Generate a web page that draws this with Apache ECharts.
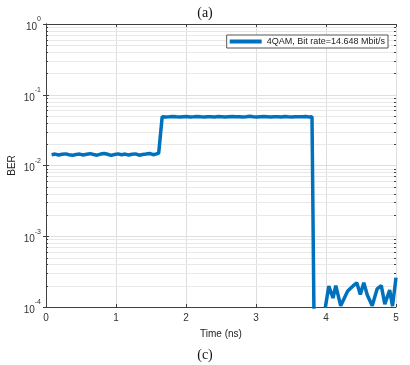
<!DOCTYPE html>
<html>
<head>
<meta charset="utf-8">
<script src="https://cdn.jsdelivr.net/npm/echarts@6/dist/echarts.min.js"></script>
<style>
  html, body { margin: 0; padding: 0; background: #fff; }
  #chart { width: 410px; height: 365px; }
</style>
</head>
<body>
<div id="chart"></div>
<script>
// BER vs time, 4QAM
const seriesName = '4QAM, Bit rate=14.648 Mbit/s'

const timeNs = [
  0.08, 0.13, 0.18, 0.23, 0.28, 0.33, 0.38, 0.43, 0.48, 0.53,
  0.58, 0.63, 0.68, 0.73, 0.78, 0.83, 0.88, 0.93, 0.98, 1.03,
  1.08, 1.13, 1.18, 1.23, 1.28, 1.33, 1.38, 1.43, 1.48, 1.53,
  1.58, 1.61,
  1.66, 1.71, 1.76, 1.81, 1.86, 1.91, 1.96, 2.01, 2.06, 2.11,
  2.16, 2.21, 2.26, 2.31, 2.36, 2.41, 2.46, 2.51, 2.56, 2.61,
  2.66, 2.71, 2.76, 2.81, 2.86, 2.91, 2.96, 3.01, 3.06, 3.11,
  3.16, 3.21, 3.26, 3.31, 3.36, 3.41, 3.46, 3.51, 3.56, 3.61,
  3.66, 3.71, 3.76, 3.80,
  3.83, 3.90,
  3.99, 4.04, 4.10, 4.14, 4.21, 4.31, 4.39, 4.44, 4.49, 4.54,
  4.59, 4.66, 4.73, 4.79, 4.84, 4.91, 4.95, 5.00
]

const ber = [
  0.0142, 0.0145, 0.0141, 0.0144, 0.0146, 0.0142, 0.0140, 0.0143, 0.0145, 0.0141,
  0.0144, 0.0147, 0.0143, 0.0140, 0.0145, 0.0148, 0.0144, 0.0139, 0.0143, 0.0146,
  0.0142, 0.0145, 0.0141, 0.0144, 0.0146, 0.0140, 0.0143, 0.0145, 0.0148, 0.0142,
  0.0146, 0.0150,
  0.0490, 0.0485, 0.0488, 0.0492, 0.0487, 0.0483, 0.0489, 0.0491, 0.0486, 0.0488,
  0.0493, 0.0487, 0.0484, 0.0489, 0.0490, 0.0486, 0.0491, 0.0488, 0.0485, 0.0490,
  0.0492, 0.0487, 0.0489, 0.0486, 0.0490, 0.0495, 0.0488, 0.0485, 0.0489, 0.0491,
  0.0487, 0.0483, 0.0488, 0.0490, 0.0486, 0.0492, 0.0488, 0.0485, 0.0490, 0.0487,
  0.0489, 0.0491, 0.0486, 0.0488,
  0.00005, null,
  0.000098, 0.000198, 0.000134, 0.000200, 0.000104, 0.000168, 0.000200, 0.000220, 0.000150, 0.000220,
  0.000148, 0.000104, 0.000180, 0.000200, 0.000110, 0.000173, 0.000103, 0.000260
]

const xTicks = [0, 1, 2, 3, 4, 5]
const yDecades = [-4, -3, -2, -1, 0]

// minor grid positions 2..9 x 10^k
const minorVals = []
yDecades.slice(0, -1).forEach((k) => {
  for (let m = 2; m <= 9; m++) minorVals.push([0, m * Math.pow(10, k)])
})

const axisColor = '#404040'
const font = 'Liberation Sans, Arial, sans-serif'

const chart = echarts.init(document.getElementById('chart'))

const option = {
  animation: false,
  backgroundColor: '#fff',
  title: [
    {
      text: '(a)',
      left: 'center',
      top: 1,
      textStyle: { fontFamily: 'Liberation Serif, Times New Roman, serif', fontSize: 14, fontWeight: 'normal', color: '#111' },
    },
    {
      text: '(c)',
      left: 'center',
      top: 343,
      textStyle: { fontFamily: 'Liberation Serif, Times New Roman, serif', fontSize: 14, fontWeight: 'normal', color: '#111' },
    },
  ],
  legend: {
    right: 22,
    top: 35,
    data: [seriesName],
    icon: 'rect',
    itemWidth: 32,
    itemHeight: 4,
    itemGap: 4,
    padding: [2, 3, 2, 3],
    borderColor: '#555',
    borderWidth: 1,
    backgroundColor: '#fff',
    textStyle: { fontFamily: font, fontSize: 9, color: '#222' },
  },
  grid: { left: 46, right: 14, top: 24, bottom: 58, outerBoundsMode: 'none' },
  xAxis: [
    {
      type: 'value',
      min: xTicks[0],
      max: xTicks[xTicks.length - 1],
      interval: 1,
      name: 'Time (ns)',
      nameLocation: 'middle',
      nameGap: 22,
      nameTextStyle: { fontFamily: font, fontSize: 10, color: '#222' },
      axisLine: { show: true, lineStyle: { color: axisColor, width: 1 } },
      axisTick: { show: true, inside: true, length: 3, lineStyle: { color: axisColor } },
      axisLabel: { fontFamily: font, fontSize: 10, color: '#333', margin: 6 },
      splitLine: { show: true, lineStyle: { color: '#dedede', width: 1 } },
    },
    {
      type: 'value',
      position: 'top',
      min: xTicks[0],
      max: xTicks[xTicks.length - 1],
      interval: 1,
      axisLine: { show: true, lineStyle: { color: axisColor, width: 1 } },
      axisTick: { show: true, inside: true, length: 3, lineStyle: { color: axisColor } },
      axisLabel: { show: false },
      splitLine: { show: false },
    },
  ],
  yAxis: [
    {
      type: 'log',
      logBase: 10,
      min: Math.pow(10, yDecades[0]),
      max: Math.pow(10, yDecades[yDecades.length - 1]),
      interval: 1,
      name: 'BER',
      nameLocation: 'middle',
      nameGap: 29,
      nameMoveOverlap: false,
      nameTextStyle: { fontFamily: font, fontSize: 10, color: '#222' },
      axisLine: { show: true, lineStyle: { color: axisColor, width: 1 } },
      axisTick: { show: true, inside: true, length: 3, lineStyle: { color: axisColor } },
      axisLabel: {
        margin: 5,
        formatter: (v) => '{b|10}{e|' + Math.round(Math.log10(v)) + '}',
        rich: {
          b: { fontFamily: font, fontSize: 10, color: '#333', lineHeight: 16, verticalAlign: 'bottom' },
          e: { fontFamily: font, fontSize: 7, color: '#333', lineHeight: 16, verticalAlign: 'top' },
        },
      },
      splitLine: { show: true, lineStyle: { color: '#dedede', width: 1 } },
    },
    {
      type: 'log',
      logBase: 10,
      position: 'right',
      min: Math.pow(10, yDecades[0]),
      max: Math.pow(10, yDecades[yDecades.length - 1]),
      interval: 1,
      axisLine: { show: true, lineStyle: { color: axisColor, width: 1 } },
      axisTick: { show: true, inside: true, length: 3, lineStyle: { color: axisColor } },
      axisLabel: { show: false },
      splitLine: { show: false },
    },
  ],
  series: [
    {
      type: 'custom',
      silent: true,
      z: 1,
      xAxisIndex: 0,
      yAxisIndex: 0,
      data: minorVals,
      renderItem: (params, api) => {
        const y = Math.round(api.coord([0, api.value(1)])[1]) + 0.5
        const cs = params.coordSys
        return {
          type: 'group',
          children: [
            { type: 'line', shape: { x1: cs.x, y1: y, x2: cs.x + cs.width, y2: y }, style: { stroke: '#e8e8e8', lineWidth: 1 } },
            { type: 'line', shape: { x1: cs.x, y1: y, x2: cs.x + 2, y2: y }, style: { stroke: axisColor, lineWidth: 1 } },
            { type: 'line', shape: { x1: cs.x + cs.width - 2, y1: y, x2: cs.x + cs.width, y2: y }, style: { stroke: axisColor, lineWidth: 1 } },
          ],
        }
      },
    },
    {
      name: seriesName,
      type: 'line',
      z: 3,
      xAxisIndex: 0,
      yAxisIndex: 0,
      data: timeNs.map((t, i) => [t, ber[i]]),
      showSymbol: false,
      symbol: 'none',
      connectNulls: false,
      clip: true,
      color: '#0072BD',
      lineStyle: { color: '#0072BD', width: 3.5 },
    },
  ],
}

chart.setOption(option)
</script>
</body>
</html>
